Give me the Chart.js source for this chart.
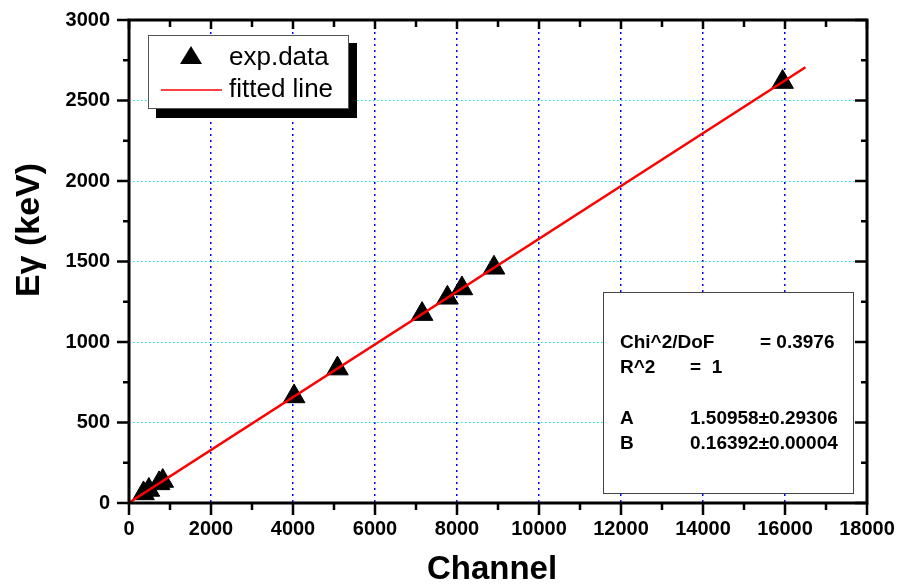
<!DOCTYPE html>
<html>
<head>
<meta charset="utf-8">
<script src="https://cdn.jsdelivr.net/npm/chart.js@4/dist/chart.umd.min.js"></script>
<style>
  html, body { margin: 0; padding: 0; background: #fff; }
  #wrap { width: 901px; height: 588px; }
</style>
</head>
<body>
<div id="wrap"><canvas id="chart" width="901" height="588"></canvas></div>
<script>
const channels = [354, 485, 734, 823, 4027, 5084, 7148, 7766, 8120, 8902, 15941];
const energies = [59.5, 81.0, 121.8, 136.5, 661.7, 834.8, 1173.2, 1274.5, 1332.5, 1460.8, 2614.5];

// fitted line end points (E = A + B * channel)
const fitX = [0, 16500];
const fitY = [1.5, 2706.2];

const xTitle = 'Channel';
const yTitle = 'E\u03b3 (keV)';
const legendLabels = ['exp.data', 'fitted line'];
const statsRows = [
  ['Chi^2/DoF', '= 0.3976'],
  ['R^2', '=  1'],
  ['', ''],
  ['A', '1.50958\u00b10.29306'],
  ['B', '0.16392\u00b10.00004'],
];

const FONT = '"Liberation Sans", Arial, Helvetica, sans-serif';

const framePlugin = {
  id: 'frame',
  afterDraw(chart) {
    const ctx = chart.ctx;
    const a = chart.chartArea;
    const xs = chart.scales.x;
    const ys = chart.scales.y;
    ctx.save();
    ctx.strokeStyle = '#000';
    ctx.lineWidth = 2.5;
    ctx.lineCap = 'butt';
    ctx.beginPath();
    for (let v = 0; v <= 18000; v += 1000) {
      const px = xs.getPixelForValue(v);
      const major = v % 2000 === 0;
      ctx.moveTo(px, a.bottom);
      ctx.lineTo(px, a.bottom + (major ? 12 : 7));
      ctx.moveTo(px, a.top);
      ctx.lineTo(px, a.top + (major ? 9 : 7));
    }
    for (let v = 0; v <= 3000; v += 250) {
      const py = ys.getPixelForValue(v);
      const major = v % 500 === 0;
      ctx.moveTo(a.left, py);
      ctx.lineTo(a.left - (major ? 12 : 6), py);
      ctx.moveTo(a.right, py);
      ctx.lineTo(a.right - (major ? 12 : 6), py);
    }
    ctx.stroke();

    ctx.lineWidth = 3;
    ctx.strokeRect(a.left, a.top, a.right - a.left, a.bottom - a.top);

    // axis titles
    ctx.fillStyle = '#000';
    ctx.font = 'bold 33px ' + FONT;
    ctx.textAlign = 'center';
    ctx.textBaseline = 'alphabetic';
    ctx.fillText(xTitle, 492, 579);
    ctx.save();
    ctx.translate(39, 230);
    ctx.rotate(-Math.PI / 2);
    ctx.font = 'bold 34px ' + FONT;
    ctx.fillText(yTitle, 0, 0);
    ctx.restore();

    // legend box with shadow
    ctx.fillStyle = '#000';
    ctx.fillRect(156, 43, 201, 75);
    ctx.fillStyle = '#fff';
    ctx.fillRect(148, 35, 200, 73);
    ctx.lineWidth = 1;
    ctx.strokeStyle = '#555';
    ctx.strokeRect(148.5, 35.5, 200, 73);

    ctx.fillStyle = '#000';
    ctx.beginPath();
    ctx.moveTo(191, 46);
    ctx.lineTo(202, 64);
    ctx.lineTo(180, 64);
    ctx.closePath();
    ctx.fill();

    ctx.strokeStyle = '#ff0000';
    ctx.lineWidth = 1.5;
    ctx.beginPath();
    ctx.moveTo(161, 90);
    ctx.lineTo(222, 90);
    ctx.stroke();

    ctx.fillStyle = '#000';
    ctx.font = '26px ' + FONT;
    ctx.textBaseline = 'middle';
    ctx.textAlign = 'left';
    ctx.fillText(legendLabels[0], 229, 58);
    ctx.fillText(legendLabels[1], 229, 90);

    // fit statistics box
    ctx.fillStyle = '#fff';
    ctx.fillRect(603, 292, 250, 201);
    ctx.strokeStyle = '#444';
    ctx.lineWidth = 1;
    ctx.strokeRect(603.5, 292.5, 250, 201);

    ctx.fillStyle = '#000';
    ctx.font = 'bold 19px ' + FONT;
    const rowY = [343, 368, 394, 419, 444];
    statsRows.forEach((row, i) => {
      ctx.fillText(row[0], 620, rowY[i]);
      const vx = i === 0 ? 760 : 690;
      ctx.fillText(row[1], vx, rowY[i]);
    });
    ctx.restore();
  }
};

const gridColor = (c, col) => {
  const v = c.tick ? c.tick.value : null;
  if (v === 0 || v === 18000 || v === 3000) return 'rgba(0,0,0,0)';
  return col;
};

new Chart(document.getElementById('chart'), {
  type: 'scatter',
  data: {
    datasets: [
      {
        label: legendLabels[1],
        type: 'line',
        data: fitX.map((x, i) => ({ x: x, y: fitY[i] })),
        borderColor: '#ff0000',
        borderWidth: 2.5,
        pointRadius: 0,
        fill: false,
        order: 0,
      },
      {
        label: legendLabels[0],
        data: channels.map((x, i) => ({ x: x, y: energies[i] })),
        pointStyle: 'triangle',
        pointRadius: 12.5,
        backgroundColor: '#000',
        borderColor: '#000',
        borderWidth: 1,
        order: 1,
      },
    ],
  },
  options: {
    responsive: false,
    animation: false,
    layout: { padding: { top: 20, right: 34, left: 0, bottom: 0 } },
    plugins: { legend: { display: false }, tooltip: { enabled: false } },
    scales: {
      x: {
        type: 'linear',
        min: 0,
        max: 18000,
        afterFit(scale) {
          scale.height = 85;
          scale.paddingLeft = 0;
          scale.paddingRight = 0;
        },
        ticks: {
          stepSize: 2000,
          padding: 14,
          color: '#000',
          font: { family: FONT, size: 20, weight: 'bold' },
          callback: (v) => String(v),
        },
        grid: {
          drawTicks: false,
          lineWidth: 1.5,
          color: (c) => gridColor(c, '#0000ff'),
        },
        border: { display: false, dash: [2, 4] },
      },
      y: {
        type: 'linear',
        min: 0,
        max: 3000,
        afterFit(scale) {
          scale.width = 129;
          scale.paddingTop = 0;
          scale.paddingBottom = 0;
        },
        ticks: {
          stepSize: 500,
          padding: 19,
          color: '#000',
          font: { family: FONT, size: 20, weight: 'bold' },
          callback: (v) => String(v),
        },
        grid: {
          drawTicks: false,
          lineWidth: 1,
          color: (c) => gridColor(c, '#00e8e8'),
        },
        border: { display: false, dash: [1.5, 2.5] },
      },
    },
  },
  plugins: [framePlugin],
});
</script>
</body>
</html>
